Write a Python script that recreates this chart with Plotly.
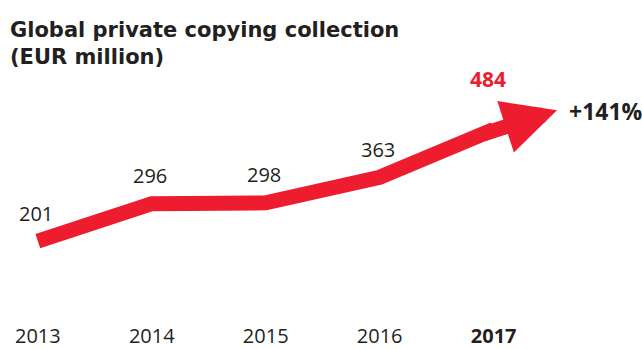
import plotly.graph_objects as go

# ---- data ----
years = [2013, 2014, 2015, 2016, 2017]
values = [201, 296, 298, 363, 484]
tick_labels = ["2013", "2014", "2015", "2016", "<b>2017</b>"]
title_text = "<b>Global private copying collection<br>(EUR million)</b>"
growth_label = "<b>+141%</b>"

RED = "#ED1C2E"
DARK = "#231F20"
FONT = "Open Sans"

fig = go.Figure()

fig.add_trace(go.Scatter(
    x=years, y=values, mode="lines",
    line=dict(color=RED, width=15),
    hoverinfo="skip", showlegend=False,
))

# arrow head continuing the last segment
last_growth = values[-1] - values[-2]
arrow_run = 0.556
arrow_rise = 0.405 * last_growth
tip_x = years[-1] + arrow_run
tip_y = values[-1] + arrow_rise
tail_back = 0.1
tail_x = years[-1] - tail_back
tail_y = values[-1] - tail_back * last_growth

fig.add_annotation(
    x=tip_x, y=tip_y, ax=tail_x, ay=tail_y,
    xref="x", yref="y", axref="x", ayref="y",
    showarrow=True, arrowhead=2, arrowsize=0.72, arrowwidth=15,
    arrowcolor=RED, standoff=0, startstandoff=0, text="",
)

# value labels
for i, (yr, v) in enumerate(zip(years, values)):
    last = i == len(years) - 1
    fig.add_annotation(
        x=yr, y=v, xref="x", yref="y", showarrow=False,
        text=f"<b>{v}</b>" if last else str(v),
        font=dict(family=FONT, size=21 if last else 20, color=RED if last else DARK),
        xanchor="center", yanchor="middle",
        yshift=51 if last else 28, xshift=-6 if last else -2,
    )

fig.add_annotation(
    x=tip_x, y=tip_y, xref="x", yref="y", showarrow=False,
    text=growth_label, font=dict(family=FONT, size=23, color=DARK),
    xanchor="left", yanchor="middle", xshift=10, yshift=-1,
)

# title
fig.add_annotation(
    x=8 / 642, y=1 + 24 / 278, xref="paper", yref="paper",
    xanchor="left", yanchor="top", align="left", showarrow=False,
    text=title_text, font=dict(family="DejaVu Sans", size=21, color=DARK),
)

fig.update_layout(
    width=642, height=349,
    margin=dict(l=0, r=0, t=40, b=31),
    paper_bgcolor="white", plot_bgcolor="white",
    xaxis=dict(
        range=[2012.668, 2018.302], tickvals=years, ticktext=tick_labels,
        showgrid=False, zeroline=False, showline=False, automargin=False,
        ticks="outside", ticklen=0, tickcolor="rgba(0,0,0,0)",
        tickfont=dict(family=FONT, size=20, color=DARK),
        fixedrange=True,
    ),
    yaxis=dict(range=[6.07, 711], visible=False, fixedrange=True, automargin=False),
    showlegend=False,
)

fig.write_html("out.html", config={"displayModeBar": False})
